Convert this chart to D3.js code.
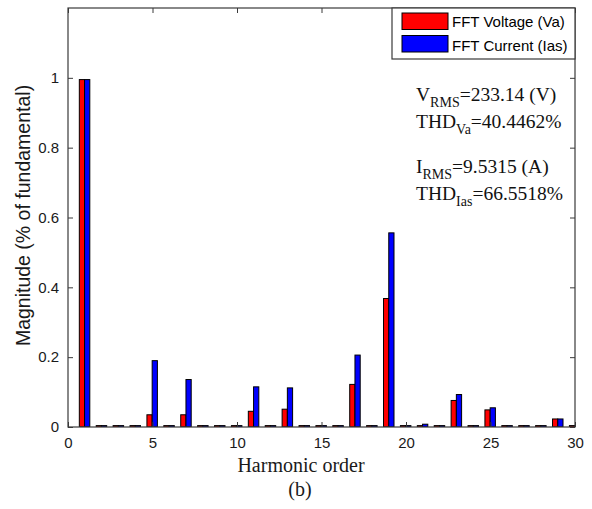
<!DOCTYPE html>
<html>
<head>
<meta charset="utf-8">
<script src="https://cdn.jsdelivr.net/npm/d3@7"></script>
<style>
  body { margin: 0; background: #fff; }
  svg { display: block; }
</style>
</head>
<body>
<div id="chart"></div>
<script>
// harmonic spectrum
var harmonics = d3.range(1, 31);
var voltage = [0.995, 0.004, 0.004, 0.004, 0.035, 0.004, 0.035, 0.004, 0.004, 0.004,
               0.045, 0.004, 0.051, 0.004, 0.004, 0.004, 0.122, 0.004, 0.368, 0.004,
               0.004, 0.004, 0.076, 0.004, 0.049, 0.004, 0.004, 0.004, 0.023, 0.004];
var current = [0.995, 0.004, 0.004, 0.004, 0.190, 0.004, 0.136, 0.004, 0.004, 0.004,
               0.115, 0.004, 0.112, 0.004, 0.004, 0.004, 0.206, 0.004, 0.556, 0.004,
               0.008, 0.004, 0.093, 0.004, 0.055, 0.004, 0.004, 0.004, 0.023, 0.004];
var seriesNames = ['FFT Voltage (Va)', 'FFT Current (Ias)'];
var seriesColors = ['#ff0000', '#0000ff'];
var xTicks = [0, 5, 10, 15, 20, 25, 30];
var yTicks = [0, 0.2, 0.4, 0.6, 0.8, 1];

var width = 592, height = 509;
var margin = {top: 8, right: 17, bottom: 82, left: 68};
var axisColor = '#3a3a3a';

var svg = d3.select('#chart').append('svg')
  .attr('width', width)
  .attr('height', height);

var x = d3.scaleLinear().domain([0, 30]).range([margin.left, width - margin.right]);
var y = d3.scaleLinear().domain([0, 1.2]).range([height - margin.bottom, margin.top]);

svg.append('clipPath').attr('id', 'plotclip')
  .append('rect')
  .attr('x', x(0)).attr('y', y(1.2))
  .attr('width', x(30) - x(0)).attr('height', y(0) - y(1.2));

// bars
var barW = 0.31;
var plot = svg.append('g').attr('clip-path', 'url(#plotclip)');
[voltage, current].forEach(function(vals, s) {
  plot.selectAll('rect.s' + s)
    .data(harmonics)
    .enter().append('rect')
    .attr('class', 's' + s)
    .attr('x', function(h) { return x(s === 0 ? h - barW - 0.02 : h - 0.02); })
    .attr('width', x(barW) - x(0))
    .attr('y', function(h, i) { return y(vals[i]); })
    .attr('height', function(h, i) { return y(0) - y(vals[i]); })
    .attr('fill', seriesColors[s])
    .attr('stroke', '#000')
    .attr('stroke-width', 1);
});

// axes (ticks point inward, like MATLAB)
var tickFont = '15px Arial, "Liberation Sans", sans-serif';
svg.append('g')
  .attr('transform', 'translate(0,' + y(0) + ')')
  .call(d3.axisBottom(x).tickValues(xTicks).tickSize(-5).tickPadding(10))
  .call(function(g) { g.select('.domain').remove(); });
svg.append('g')
  .attr('transform', 'translate(0,' + y(1.2) + ')')
  .call(d3.axisTop(x).tickValues(xTicks).tickSize(-5).tickFormat(''))
  .call(function(g) { g.select('.domain').remove(); });
svg.append('g')
  .attr('transform', 'translate(' + x(0) + ',0)')
  .call(d3.axisLeft(y).tickValues(yTicks).tickSize(-5).tickPadding(9).tickFormat(d3.format('~g')))
  .call(function(g) { g.select('.domain').remove(); });
svg.append('g')
  .attr('transform', 'translate(' + x(30) + ',0)')
  .call(d3.axisRight(y).tickValues(yTicks).tickSize(-5).tickFormat(''))
  .call(function(g) { g.select('.domain').remove(); });

svg.selectAll('.tick line').attr('stroke', axisColor);
svg.selectAll('.tick text').style('font', tickFont).attr('fill', '#1a1a1a');

svg.append('rect')
  .attr('x', x(0)).attr('y', y(1.2))
  .attr('width', x(30) - x(0)).attr('height', y(0) - y(1.2))
  .attr('fill', 'none').attr('stroke', axisColor).attr('stroke-width', 1.2);

// axis titles
svg.append('text')
  .attr('transform', 'translate(30,' + (y(0.6) - 2) + ') rotate(-90)')
  .attr('text-anchor', 'middle')
  .style('font', '19.5px Arial, "Liberation Sans", sans-serif')
  .attr('fill', '#1a1a1a')
  .text('Magnitude (% of fundamental)');

svg.append('text')
  .attr('x', 301).attr('y', 472)
  .attr('text-anchor', 'middle')
  .style('font', '20px "Liberation Serif", "Times New Roman", serif')
  .attr('fill', '#1a1a1a')
  .text('Harmonic order');

svg.append('text')
  .attr('x', 300).attr('y', 496)
  .attr('text-anchor', 'middle')
  .style('font', '20px "Liberation Serif", "Times New Roman", serif')
  .attr('fill', '#1a1a1a')
  .text('(b)');

// legend
var legend = svg.append('g');
legend.append('rect')
  .attr('x', 392).attr('y', y(1.2))
  .attr('width', x(30) - 392).attr('height', 51)
  .attr('fill', '#fff').attr('stroke', axisColor).attr('stroke-width', 1.2);
seriesNames.forEach(function(name, i) {
  legend.append('rect')
    .attr('x', 402).attr('y', 13 + i * 22.5)
    .attr('width', 46).attr('height', 16.5)
    .attr('fill', seriesColors[i]).attr('stroke', '#000');
  legend.append('text')
    .attr('x', 452).attr('y', 27 + i * 23.5)
    .style('font', '15px Arial, "Liberation Sans", sans-serif')
    .attr('fill', '#000')
    .text(name);
});

// RMS / THD annotations
var notes = [
  {main: 'V', sub: 'RMS', rest: '=233.14 (V)', y: 101},
  {main: 'THD', sub: 'Va', rest: '=40.4462%', y: 128},
  {main: 'I', sub: 'RMS', rest: '=9.5315 (A)', y: 173},
  {main: 'THD', sub: 'Ias', rest: '=66.5518%', y: 200}
];
notes.forEach(function(n) {
  var t = svg.append('text')
    .attr('x', 416).attr('y', n.y)
    .style('font', '19.5px "Liberation Serif", "Times New Roman", serif')
    .attr('fill', '#111');
  t.append('tspan').text(n.main);
  t.append('tspan').attr('dy', 6).style('font-size', '14px').text(n.sub);
  t.append('tspan').attr('dy', -6).text(n.rest);
});
</script>
</body>
</html>
